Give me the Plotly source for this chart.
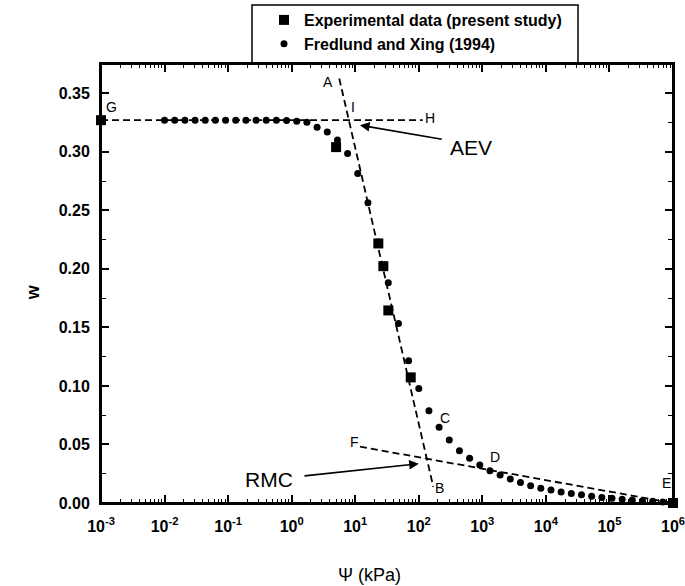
import plotly.graph_objects as go

FONT = "Liberation Sans, Arial, Helvetica, sans-serif"

# ---- data ----
psi_exp = [0.001, 5.0, 23.1, 27.7, 33.2, 74.7, 1.0e6]
w_exp = [0.327, 0.304, 0.2217, 0.2023, 0.1645, 0.1073, 0.0]

psi_fx = [0.0100, 0.01445, 0.02089, 0.0302, 0.04365, 0.0631, 0.0912, 0.1318,
          0.1905, 0.2754, 0.398, 0.575, 0.832, 1.202, 1.738, 2.512, 3.631,
          5.248, 7.586, 10.96, 15.85, 22.91, 33.11, 47.86, 69.18, 100.0,
          144.5, 208.9, 302.0, 436.5, 631.0, 912.0, 1318.0, 1905.0, 2754.0,
          3981.0, 5754.0, 8318.0, 12023.0, 17378.0, 25119.0, 36308.0,
          52481.0, 75858.0, 109648.0, 158489.0, 229087.0, 331131.0,
          478630.0, 691831.0, 1.0e6]
w_fx = [0.327, 0.327, 0.327, 0.327, 0.327, 0.327, 0.327, 0.327, 0.327,
        0.327, 0.327, 0.327, 0.3267, 0.3262, 0.3252, 0.3210, 0.3170, 0.3100,
        0.2985, 0.2815, 0.2564, 0.2230, 0.1881, 0.1534, 0.1215, 0.0979,
        0.0788, 0.0646, 0.0538, 0.0447, 0.0382, 0.0324, 0.0276, 0.0239,
        0.0205, 0.0175, 0.0148, 0.0127, 0.0110, 0.0095, 0.0082, 0.0070,
        0.0058, 0.0048, 0.0040, 0.0033, 0.0026, 0.0020, 0.0015, 0.0009,
        0.0002]

# construction lines
gh_psi, gh_w = [0.001, 115.0], [0.327, 0.327]
ab_psi, ab_w = [5.61, 169.0], [0.3626, 0.0139]
fe_psi, fe_w = [11.9, 1.0e6], [0.0481, 0.0]

x_tick_vals = [1e-3, 1e-2, 1e-1, 1e0, 1e1, 1e2, 1e3, 1e4, 1e5, 1e6]
x_tick_text = ["10<sup>-3</sup>", "10<sup>-2</sup>", "10<sup>-1</sup>",
               "10<sup>0</sup>", "10<sup>1</sup>", "10<sup>2</sup>",
               "10<sup>3</sup>", "10<sup>4</sup>", "10<sup>5</sup>",
               "10<sup>6</sup>"]

# point labels (log10 psi, w)
point_labels = [("A", 0.576, 0.3597), ("I", 0.97, 0.3383), ("G", -2.832, 0.3383),
                ("H", 2.176, 0.3287), ("C", 2.412, 0.0726), ("D", 3.199, 0.0395),
                ("E", 5.90, 0.0168), ("B", 2.333, 0.0128), ("F", 0.996, 0.0523)]

fig = go.Figure()

dash_line = dict(color="black", width=1.8, dash="7px,4px")
for xs, ys in [(gh_psi, gh_w), (ab_psi, ab_w), (fe_psi, fe_w)]:
    fig.add_trace(go.Scatter(x=xs, y=ys, mode="lines", line=dash_line,
                             showlegend=False, hoverinfo="skip"))

fig.add_trace(go.Scatter(x=psi_exp, y=w_exp, mode="markers",
                         name="Experimental data (present study)",
                         marker=dict(symbol="square", size=10, color="black"),
                         cliponaxis=False, legendgroup="a"))
fig.add_trace(go.Scatter(x=psi_fx, y=w_fx, mode="markers",
                         name="Fredlund and Xing (1994)",
                         marker=dict(symbol="circle", size=7, color="black"),
                         cliponaxis=False, legendgroup="b"))

ann = []
for t, lx, wy in point_labels:
    ann.append(dict(x=lx, y=wy, xref="x", yref="y", text=t, showarrow=False,
                    xanchor="center", yanchor="middle",
                    font=dict(family=FONT, size=14, color="black")))

# arrows
ann.append(dict(x=1.075, y=0.3227, ax=2.386, ay=0.3105, xref="x", yref="y",
                axref="x", ayref="y", text="", showarrow=True, arrowhead=2,
                arrowsize=1.2, arrowwidth=1.6, arrowcolor="black"))
ann.append(dict(x=2.0, y=0.0335, ax=0.178, ay=0.023, xref="x", yref="y",
                axref="x", ayref="y", text="", showarrow=True, arrowhead=2,
                arrowsize=1.2, arrowwidth=1.6, arrowcolor="black"))
ann.append(dict(x=2.821, y=0.3035, xref="x", yref="y", text="AEV", showarrow=False,
                xanchor="center", yanchor="middle",
                font=dict(family=FONT, size=21, color="black")))
ann.append(dict(x=-0.357, y=0.0205, xref="x", yref="y", text="RMC", showarrow=False,
                xanchor="center", yanchor="middle",
                font=dict(family=FONT, size=21, color="black")))

# axis titles
ann.append(dict(x=-0.119, y=0.48, xref="paper", yref="paper", text="w",
                textangle=-90, showarrow=False, xanchor="center", yanchor="middle",
                font=dict(family=FONT, size=18, color="black", weight="bold")))
ann.append(dict(x=0.47, y=-0.164, xref="paper", yref="paper", text="\u03a8 (kPa)",
                showarrow=False, xanchor="center", yanchor="middle",
                font=dict(family=FONT, size=18, color="black")))

fig.update_layout(
    width=685, height=586,
    margin=dict(l=101, r=12, t=64, b=83, autoexpand=False),
    paper_bgcolor="white", plot_bgcolor="white",
    font=dict(family=FONT, color="black"),
    annotations=ann,
    showlegend=True,
    legend=dict(x=(264 - 101) / 572, y=(503 - 3) / 439, xanchor="left", yanchor="top",
                bgcolor="rgba(0,0,0,0)", borderwidth=0, itemwidth=30,
                font=dict(family=FONT, size=16, color="black", weight="bold"),
                tracegroupgap=0),
    shapes=[
        dict(type="rect", xref="paper", yref="paper",
             x0=(252 - 101) / 572, x1=(578 - 101) / 572, y0=1.0,
             y1=(503 - 5) / 439, line=dict(color="black", width=1.5)),
        dict(type="rect", xref="paper", yref="paper", x0=0, x1=1, y0=0, y1=1,
             line=dict(color="black", width=2), layer="above"),
    ],
)

fig.update_xaxes(type="log", range=[-3, 6], showgrid=False, zeroline=False,
                 showline=True, linecolor="black", linewidth=2, mirror="ticks",
                 ticks="inside", ticklen=8, tickwidth=1.5, tickcolor="black",
                 tickmode="array", tickvals=x_tick_vals, ticktext=x_tick_text,
                 ticklabelstandoff=8, ticklabeloverflow="allow",
                 tickfont=dict(family=FONT, size=16, color="black", weight="bold"),
                 minor=dict(ticks="inside", ticklen=4, tickwidth=1.2,
                            tickcolor="black", dtick="D1", showgrid=False))
fig.update_yaxes(range=[0, 0.375], showgrid=False, zeroline=False,
                 showline=True, linecolor="black", linewidth=2, mirror="ticks",
                 ticks="inside", ticklen=8, tickwidth=1.5, tickcolor="black",
                 dtick=0.05, tick0=0, tickformat=".2f", ticklabelstandoff=6,
                 ticklabeloverflow="allow",
                 tickfont=dict(family=FONT, size=16, color="black", weight="bold"),
                 minor=dict(ticks="inside", ticklen=5, tickwidth=1.2,
                            tickcolor="black", dtick=0.025, showgrid=False))

# Remove the default page margin so the 685x586 figure fills the window exactly.
fig.write_html("out.html", config={"displayModeBar": False},
               post_script="document.body.style.margin='0px';"
                           "document.body.style.overflow='hidden';"
                           "document.documentElement.style.overflow='hidden';")
